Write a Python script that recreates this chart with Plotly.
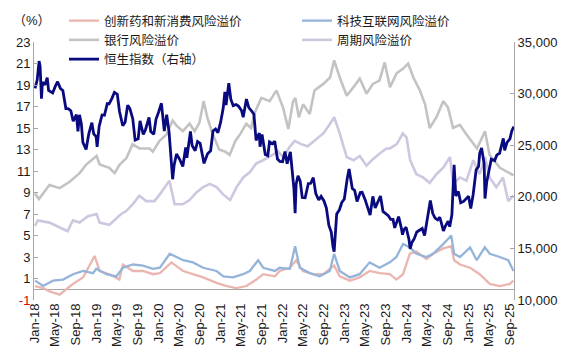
import datetime as dt
import plotly.graph_objects as go

# ---------------- data ----------------
hsi_dates = ["2018-01-02","2018-01-15","2018-01-26","2018-02-01","2018-02-09","2018-02-15","2018-03-01","2018-03-15","2018-03-23","2018-04-03","2018-04-16","2018-05-02","2018-05-15","2018-06-01","2018-06-15","2018-07-03","2018-07-16","2018-08-01","2018-08-15","2018-09-03","2018-09-12","2018-09-21","2018-10-02","2018-10-11","2018-10-30","2018-11-15","2018-12-03","2018-12-14","2018-12-28",
"2019-01-03","2019-01-15","2019-02-01","2019-02-15","2019-03-04","2019-03-15","2019-04-01","2019-04-15","2019-05-02","2019-05-15","2019-06-03","2019-06-17","2019-07-02","2019-07-15","2019-08-01","2019-08-15","2019-09-02","2019-09-13","2019-10-02","2019-10-15","2019-11-05","2019-11-15","2019-12-03","2019-12-16","2019-12-31",
"2020-01-17","2020-02-03","2020-02-17","2020-03-02","2020-03-16","2020-03-23","2020-04-01","2020-04-15","2020-05-04","2020-05-22","2020-06-08","2020-06-15","2020-07-06","2020-07-16","2020-08-03","2020-08-17","2020-09-01","2020-09-24","2020-10-15","2020-11-02","2020-11-16","2020-12-01","2020-12-15","2020-12-31",
"2021-01-15","2021-01-25","2021-02-01","2021-02-17","2021-03-01","2021-03-15","2021-04-01","2021-04-15","2021-05-03","2021-05-13","2021-06-01","2021-06-15","2021-07-02","2021-07-15","2021-07-28","2021-08-16","2021-08-20","2021-09-01","2021-09-20","2021-10-05","2021-10-15","2021-11-01","2021-11-15","2021-12-01","2021-12-15","2021-12-31",
"2022-01-14","2022-01-27","2022-02-15","2022-02-24","2022-03-08","2022-03-15","2022-03-21","2022-04-01","2022-04-14","2022-04-26","2022-05-13","2022-06-01","2022-06-15","2022-06-30","2022-07-15","2022-08-01","2022-08-15","2022-09-01","2022-09-15","2022-09-30","2022-10-14","2022-10-24","2022-10-31","2022-11-15","2022-12-01","2022-12-15","2022-12-30",
"2023-01-16","2023-01-27","2023-02-15","2023-03-01","2023-03-15","2023-04-03","2023-04-14","2023-05-02","2023-05-31","2023-06-16","2023-06-30","2023-07-14","2023-07-31","2023-08-15","2023-08-31","2023-09-15","2023-09-29","2023-10-13","2023-10-23","2023-11-15","2023-11-30","2023-12-08","2023-12-15","2023-12-29",
"2024-01-15","2024-01-22","2024-02-01","2024-02-15","2024-03-01","2024-03-15","2024-04-02","2024-04-16","2024-04-30","2024-05-20","2024-06-03","2024-06-17","2024-07-02","2024-07-15","2024-08-05","2024-08-15","2024-09-02","2024-09-11","2024-09-24","2024-09-30","2024-10-07","2024-10-17","2024-11-01","2024-11-15","2024-12-02","2024-12-16","2024-12-31",
"2025-01-13","2025-01-27","2025-02-14","2025-02-28","2025-03-07","2025-03-18","2025-04-02","2025-04-07","2025-04-17","2025-05-02","2025-05-14","2025-06-03","2025-06-16","2025-07-02","2025-07-24","2025-08-01","2025-08-15","2025-09-01","2025-09-12","2025-09-24"]
hsi_values = [30515,31340,33150,32640,29510,31120,30840,31540,30310,30180,30060,30720,31150,30490,30310,28550,28540,28340,27320,27970,26350,27950,27090,25270,24590,26100,27180,26090,25850,
24830,26830,27930,27900,29030,29010,29560,30130,29940,28270,26890,27230,28880,28550,27570,25500,25630,27350,26040,26500,27690,26330,26060,27510,28190,
29060,26360,27960,26290,23060,21700,23090,24150,23610,22930,24780,23780,26340,24970,24460,25350,25180,23240,24160,24460,26380,26570,26210,27230,
28570,30160,28890,31000,29450,28830,28940,28790,28360,27720,29470,28640,28310,27990,25470,26180,24850,26030,24100,23990,25330,25150,25390,23660,23420,23400,
24380,23210,24350,22900,20770,18420,21220,22040,21520,19930,19900,21290,21310,21860,20300,19690,20040,19600,18930,17220,16590,15180,14690,18340,18740,19450,19780,
21740,22690,20810,20620,19540,20410,20440,19700,18230,20040,18920,19410,20080,18580,18380,18180,17810,17810,16990,18080,17040,16330,16790,17050,
15870,14960,15570,15940,16590,16720,16930,16250,17760,19640,18400,17940,17770,18020,16700,17110,17650,17110,18250,21130,23100,20080,20510,19430,19550,19800,20060,
18870,20200,22620,22940,24230,24740,23200,19830,21400,22500,23640,23510,24060,24220,25670,24510,25270,25620,26390,26800]

bank_dates = ["2018-01-02","2018-01-25","2018-03-28","2018-05-28","2018-07-25","2018-09-22","2018-10-31","2018-12-31","2019-01-18","2019-03-16","2019-04-16","2019-05-16","2019-06-25","2019-07-31","2019-09-09","2019-11-08","2019-11-27","2020-01-06","2020-02-16","2020-03-23","2020-04-16","2020-05-22","2020-07-01","2020-07-31","2020-08-28","2020-09-22","2020-10-13","2020-11-13","2020-12-22","2021-01-28","2021-02-22","2021-03-28","2021-04-28","2021-05-31","2021-06-28","2021-07-22","2021-08-28","2021-10-16","2021-11-25","2022-01-03","2022-02-03","2022-03-03","2022-03-16","2022-04-06","2022-05-01","2022-06-09","2022-07-07","2022-08-28","2022-10-07","2022-10-31","2022-12-03","2023-01-13","2023-02-22","2023-03-31","2023-05-10","2023-06-16","2023-07-25","2023-08-25","2023-09-25","2023-11-04","2023-12-10","2024-01-10","2024-02-10","2024-03-19","2024-04-19","2024-05-16","2024-06-25","2024-08-04","2024-09-01","2024-10-01","2024-11-10","2024-12-19","2025-02-19","2025-04-07","2025-05-04","2025-07-04","2025-09-22"]
bank_values = [8.9,8.4,9.7,9.4,10.0,10.8,11.6,12.4,11.6,11.3,10.8,11.6,12.2,13.5,13.1,13.1,12.8,13.8,14.4,15.7,15.2,14.7,15.4,14.7,15.5,17.5,16.0,14.5,13.0,12.8,12.5,13.8,14.5,15.4,15.0,16.5,17.8,17.5,18.5,16.9,14.9,17.5,17.8,16.0,17.2,16.3,18.5,19.1,19.7,21.3,19.7,18.0,18.8,19.6,18.2,19.1,19.4,21.1,18.8,20.1,20.5,21.0,19.7,18.5,17.2,15.0,16.0,17.5,16.9,15.0,15.3,14.4,13.1,14.7,12.5,11.3,10.6]

cyc_dates = ["2018-01-02","2018-01-19","2018-03-28","2018-05-28","2018-07-13","2018-08-13","2018-09-22","2018-11-10","2018-12-31","2019-01-18","2019-03-16","2019-05-25","2019-06-25","2019-07-31","2019-09-09","2019-10-19","2019-12-07","2020-01-06","2020-03-04","2020-04-04","2020-05-22","2020-07-01","2020-08-10","2020-09-19","2020-10-28","2020-12-07","2021-01-16","2021-02-25","2021-04-04","2021-05-13","2021-06-22","2021-07-28","2021-09-07","2021-11-13","2021-11-28","2022-01-04","2022-02-13","2022-03-13","2022-04-19","2022-05-28","2022-07-07","2022-08-28","2022-10-07","2022-10-31","2022-12-03","2023-01-13","2023-02-22","2023-03-31","2023-05-10","2023-06-16","2023-07-25","2023-09-04","2023-09-25","2023-11-04","2023-12-10","2024-01-01","2024-01-22","2024-02-28","2024-04-07","2024-05-16","2024-06-25","2024-08-04","2024-09-13","2024-10-01","2024-11-10","2024-12-19","2025-01-28","2025-03-07","2025-04-07","2025-05-04","2025-06-13","2025-07-22","2025-08-22","2025-09-22"]
cyc_values = [5.9,6.4,6.2,5.7,5.4,6.4,6.2,6.8,7.0,6.2,6.0,7.0,7.3,7.9,8.7,8.2,8.2,8.8,10.1,7.9,7.9,8.3,9.0,9.5,9.8,9.5,8.8,8.3,9.5,10.4,10.9,11.7,12.0,12.6,12.9,12.3,13.3,13.8,13.5,13.3,13.8,14.5,15.4,16.0,14.5,12.3,12.0,12.4,11.5,12.1,12.6,13.1,13.1,13.5,14.5,14.1,12.0,10.7,10.4,9.9,10.7,11.3,12.3,9.8,10.4,10.1,12.0,10.7,12.3,10.4,9.5,10.4,8.2,8.7]

tech_dates = ["2018-01-02","2018-02-19","2018-04-18","2018-06-16","2018-08-14","2018-10-12","2018-12-10","2018-12-29","2019-02-27","2019-04-26","2019-06-04","2019-08-02","2019-09-30","2019-11-28","2020-01-08","2020-03-06","2020-04-15","2020-05-24","2020-07-21","2020-09-19","2020-12-07","2021-01-16","2021-03-14","2021-05-12","2021-06-21","2021-08-09","2021-09-08","2021-11-16","2021-12-14","2022-02-12","2022-03-15","2022-04-11","2022-06-09","2022-08-07","2022-10-05","2022-10-31","2022-12-03","2023-02-01","2023-03-30","2023-05-28","2023-07-26","2023-09-24","2023-11-02","2023-12-11","2024-01-20","2024-02-28","2024-04-27","2024-06-05","2024-08-04","2024-09-20","2024-10-07","2024-11-11","2025-01-09","2025-02-17","2025-04-06","2025-05-05","2025-07-03","2025-08-22","2025-09-22"]
tech_values = [0.8,0.3,0.8,0.9,1.4,1.7,1.5,1.9,1.4,1.2,2.0,2.3,2.2,1.9,2.0,3.3,3.0,2.7,2.5,2.0,1.7,1.2,1.1,1.4,1.7,2.7,2.0,1.7,2.0,1.9,4.0,2.0,1.5,1.2,1.7,3.3,1.7,1.1,1.4,2.5,2.0,2.5,3.0,4.2,3.9,3.3,3.0,3.3,4.2,5.0,3.3,3.0,3.9,2.7,3.9,3.3,3.0,2.7,1.7]

drug_dates = ["2018-01-02","2018-02-19","2018-03-29","2018-05-27","2018-07-05","2018-08-14","2018-10-12","2018-12-19","2019-01-18","2019-03-16","2019-05-14","2019-06-04","2019-08-02","2019-09-30","2019-11-28","2020-01-08","2020-03-16","2020-05-24","2020-07-21","2020-09-19","2020-12-07","2021-02-05","2021-04-03","2021-06-01","2021-07-30","2021-09-08","2021-11-16","2021-12-14","2022-02-12","2022-03-22","2022-04-30","2022-06-28","2022-08-27","2022-10-31","2022-12-03","2023-02-01","2023-03-30","2023-05-28","2023-07-26","2023-09-24","2023-11-02","2023-12-11","2024-01-20","2024-02-28","2024-04-27","2024-06-05","2024-08-04","2024-09-20","2024-10-07","2024-11-11","2025-01-09","2025-03-07","2025-05-05","2025-07-03","2025-09-01","2025-09-21"]
drug_values = [0.3,0.1,-0.2,-0.5,0.0,0.5,1.1,3.1,1.7,1.4,0.9,2.3,1.7,1.7,1.4,1.5,2.5,1.7,1.4,1.1,0.6,0.3,0.1,0.3,0.9,1.4,1.2,1.7,2.0,2.7,1.7,1.4,1.4,2.2,1.2,0.8,1.1,1.7,1.5,1.4,0.9,1.4,3.3,3.5,2.8,3.3,3.8,4.0,2.7,2.3,2.0,1.4,0.5,0.3,0.5,0.8]

x_ticktext = ["Jan-18","May-18","Sep-18","Jan-19","May-19","Sep-19","Jan-20","May-20","Sep-20","Jan-21","May-21","Sep-21","Jan-22","May-22","Sep-22","Jan-23","May-23","Sep-23","Jan-24","May-24","Sep-24","Jan-25","May-25","Sep-25"]
left_ticks = [-1,1,3,5,7,9,11,13,15,17,19,21,23]
right_ticks = [10000,15000,20000,25000,30000,35000]

names = {
    "drug": "创新药和新消费风险溢价",
    "tech": "科技互联网风险溢价",
    "bank": "银行风险溢价",
    "cyc": "周期风险溢价",
    "hsi": "恒生指数（右轴）",
}

# ---------------- figure ----------------
FONT = "Liberation Sans, Arial, Noto Sans CJK SC, sans-serif"
x_tickvals = [dt.datetime.strptime(t, "%b-%y").strftime("%Y-%m-%d") for t in x_ticktext]
x_range = ["2017-12-27", "2025-09-25"]
axis_grey = "#A6A6A6"

fig = go.Figure()
fig.add_trace(go.Scatter(x=drug_dates, y=drug_values, name=names["drug"], mode="lines",
                         line=dict(color="#EBB5B0", width=2.3), legend="legend"))
fig.add_trace(go.Scatter(x=tech_dates, y=tech_values, name=names["tech"], mode="lines",
                         line=dict(color="#94B4DA", width=2.3), legend="legend2"))
fig.add_trace(go.Scatter(x=bank_dates, y=bank_values, name=names["bank"], mode="lines",
                         line=dict(color="#C3C3C3", width=2.6), legend="legend"))
fig.add_trace(go.Scatter(x=cyc_dates, y=cyc_values, name=names["cyc"], mode="lines",
                         line=dict(color="#CFC6DF", width=2.6), legend="legend2"))
fig.add_trace(go.Scatter(x=hsi_dates, y=hsi_values, name=names["hsi"], mode="lines",
                         line=dict(color="#0A0A80", width=2.8), yaxis="y2", legend="legend"))

left_text = [("<span style='color:#E00000'>%d</span>" % v) if v < 0 else str(v) for v in left_ticks]

fig.update_layout(
    width=586, height=354,
    margin=dict(l=34, r=72, t=42, b=54, autoexpand=False),
    paper_bgcolor="white", plot_bgcolor="white",
    font=dict(family=FONT, size=13, color="#1A1A1A"),
    showlegend=True,
    xaxis=dict(type="date", range=x_range, tickvals=x_tickvals, ticktext=x_ticktext,
               tickangle=-90, showgrid=False, showline=False, ticks="", zeroline=False,
               automargin=False, tickfont=dict(size=13, color="#1A1A1A")),
    yaxis=dict(range=[-1, 23], tickvals=left_ticks, ticktext=left_text, showgrid=False,
               showline=True, linecolor=axis_grey, linewidth=1, ticks="inside", ticklen=4,
               tickcolor=axis_grey, zeroline=True, zerolinecolor=axis_grey, zerolinewidth=1,
               automargin=False, tickfont=dict(size=13, color="#1A1A1A")),
    yaxis2=dict(range=[10000, 35000], tickvals=right_ticks, tickformat=",d", overlaying="y",
                side="right", showgrid=False, showline=True, linecolor=axis_grey, linewidth=1,
                ticks="inside", ticklen=4, tickcolor=axis_grey, zeroline=False,
                automargin=False, tickfont=dict(size=13, color="#1A1A1A")),
    legend=dict(xref="container", yref="container", x=64/586, y=1-6/354,
                xanchor="left", yanchor="top", orientation="v", bgcolor="rgba(0,0,0,0)",
                font=dict(size=12.5, color="#1A1A1A"), tracegroupgap=0),
    legend2=dict(xref="container", yref="container", x=297/586, y=1-6/354,
                 xanchor="left", yanchor="top", orientation="v", bgcolor="rgba(0,0,0,0)",
                 font=dict(size=12.5, color="#1A1A1A"), tracegroupgap=0),
    annotations=[dict(text="（%）", xref="paper", yref="paper", x=-2/480, y=(300-20)/258,
                      xanchor="center", yanchor="middle", showarrow=False,
                      font=dict(size=13, color="#1A1A1A"))],
)

fig.write_html("out.html")
